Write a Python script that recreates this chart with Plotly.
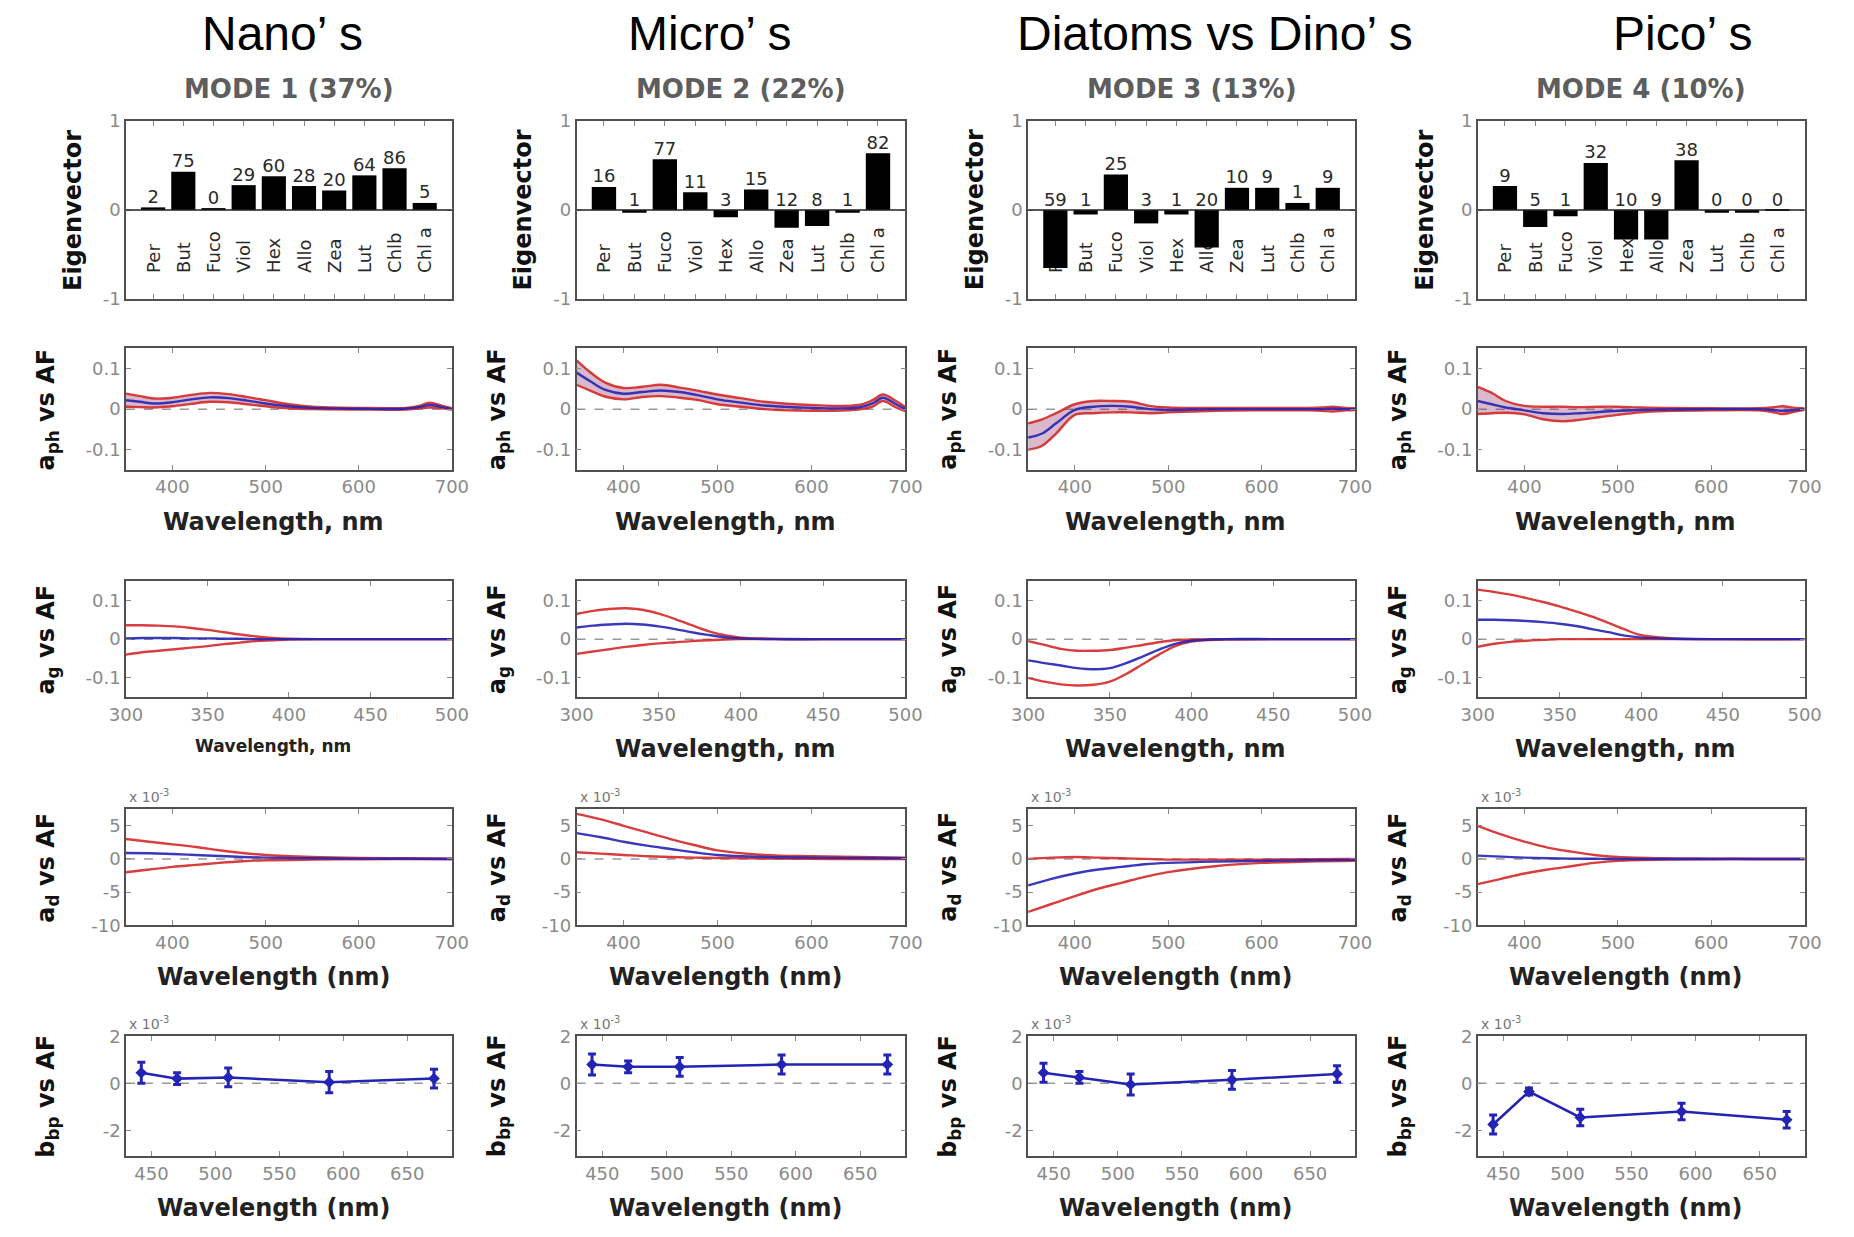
import plotly.graph_objects as go

W, H = 1854, 1237

# ---------------- data ----------------
group_titles = ["Nano’ s", "Micro’ s", "Diatoms vs Dino’ s", "Pico’ s"]
mode_titles = ["MODE 1 (37%)", "MODE 2 (22%)", "MODE 3 (13%)", "MODE 4 (10%)"]

pigments = ["Per", "But", "Fuco", "Viol", "Hex", "Allo", "Zea", "Lut", "Chlb", "Chl a"]

# eigenvector loadings per mode
eig_mode1 = [0.03, 0.43, 0.02, 0.28, 0.38, 0.27, 0.22, 0.39, 0.47, 0.08]
eig_mode2 = [0.26, -0.03, 0.57, 0.20, -0.08, 0.23, -0.20, -0.18, -0.03, 0.64]
eig_mode3 = [-0.65, -0.05, 0.40, -0.15, -0.05, -0.42, 0.25, 0.25, 0.08, 0.25]
eig_mode4 = [0.27, -0.19, -0.07, 0.53, -0.33, -0.33, 0.56, -0.03, -0.03, -0.01]
# numbers printed above the bars
num_mode1 = [2, 75, 0, 29, 60, 28, 20, 64, 86, 5]
num_mode2 = [16, 1, 77, 11, 3, 15, 12, 8, 1, 82]
num_mode3 = [59, 1, 25, 3, 1, 20, 10, 9, 1, 9]
num_mode4 = [9, 5, 1, 32, 10, 9, 38, 0, 0, 0]

# phytoplankton absorption vs AF (mean and envelope)
wl_ph = [350, 365, 380, 400, 420, 440, 460, 480, 500, 525, 550, 600, 650, 665, 676, 690, 700]
aph_hi_1 = [0.038, 0.032, 0.026, 0.028, 0.035, 0.040, 0.037, 0.030, 0.022, 0.012, 0.006, 0.003, 0.003, 0.008, 0.016, 0.008, 0.002]
aph_mn_1 = [0.022, 0.018, 0.014, 0.017, 0.024, 0.029, 0.027, 0.021, 0.014, 0.007, 0.003, 0.001, 0.001, 0.005, 0.010, 0.005, 0.000]
aph_lo_1 = [0.006, 0.005, 0.004, 0.007, 0.013, 0.018, 0.017, 0.012, 0.007, 0.002, 0.000, -0.001, -0.001, 0.002, 0.004, 0.002, -0.002]
aph_hi_2 = [0.120, 0.090, 0.066, 0.052, 0.055, 0.060, 0.053, 0.045, 0.036, 0.027, 0.018, 0.010, 0.010, 0.022, 0.036, 0.020, 0.005]
aph_mn_2 = [0.090, 0.068, 0.048, 0.038, 0.042, 0.046, 0.042, 0.034, 0.024, 0.016, 0.009, 0.003, 0.004, 0.014, 0.028, 0.012, 0.000]
aph_lo_2 = [0.060, 0.045, 0.031, 0.024, 0.030, 0.032, 0.028, 0.022, 0.012, 0.006, 0.000, -0.004, -0.001, 0.006, 0.020, 0.004, -0.005]
aph_hi_3 = [-0.035, -0.025, -0.010, 0.012, 0.020, 0.020, 0.018, 0.008, 0.004, 0.003, 0.003, 0.003, 0.003, 0.004, 0.006, 0.003, 0.002]
aph_mn_3 = [-0.070, -0.060, -0.035, -0.002, 0.006, 0.008, 0.006, 0.000, -0.002, -0.001, 0.000, 0.000, 0.000, 0.000, 0.001, 0.000, 0.000]
aph_lo_3 = [-0.100, -0.090, -0.060, -0.014, -0.010, -0.008, -0.008, -0.010, -0.008, -0.006, -0.004, -0.003, -0.003, -0.004, -0.006, -0.003, -0.002]
aph_hi_4 = [0.055, 0.040, 0.020, 0.008, 0.006, 0.006, 0.005, 0.006, 0.006, 0.004, 0.003, 0.002, 0.002, 0.004, 0.007, 0.003, 0.002]
aph_mn_4 = [0.020, 0.012, 0.004, -0.003, -0.010, -0.012, -0.010, -0.007, -0.004, -0.002, -0.001, 0.000, 0.000, -0.002, -0.004, -0.002, 0.000]
aph_lo_4 = [-0.012, -0.010, -0.009, -0.013, -0.025, -0.030, -0.026, -0.020, -0.014, -0.008, -0.005, -0.003, -0.003, -0.007, -0.012, -0.006, -0.002]

# CDOM absorption vs AF
wl_g = [300, 310, 320, 330, 340, 350, 360, 370, 380, 390, 400, 420, 450, 500]
ag_hi_1 = [0.036, 0.036, 0.035, 0.033, 0.029, 0.024, 0.018, 0.012, 0.007, 0.003, 0.001, 0.0, 0.0, 0.0]
ag_mn_1 = [0.002, 0.003, 0.003, 0.003, 0.002, 0.002, 0.001, 0.001, 0.0, 0.0, 0.0, 0.0, 0.0, 0.0]
ag_lo_1 = [-0.040, -0.034, -0.030, -0.026, -0.022, -0.018, -0.013, -0.009, -0.005, -0.003, -0.001, 0.0, 0.0, 0.0]
ag_hi_2 = [0.065, 0.073, 0.078, 0.080, 0.076, 0.066, 0.052, 0.036, 0.021, 0.010, 0.004, 0.001, 0.0, 0.0]
ag_mn_2 = [0.030, 0.035, 0.038, 0.040, 0.038, 0.033, 0.026, 0.018, 0.011, 0.005, 0.002, 0.0, 0.0, 0.0]
ag_lo_2 = [-0.038, -0.032, -0.026, -0.020, -0.015, -0.011, -0.008, -0.005, -0.003, -0.001, 0.0, 0.0, 0.0, 0.0]
ag_hi_3 = [-0.005, -0.015, -0.025, -0.030, -0.030, -0.028, -0.022, -0.015, -0.008, -0.003, -0.001, 0.0, 0.0, 0.0]
ag_mn_3 = [-0.055, -0.062, -0.068, -0.075, -0.078, -0.075, -0.062, -0.045, -0.027, -0.012, -0.004, 0.0, 0.0, 0.0]
ag_lo_3 = [-0.100, -0.110, -0.117, -0.120, -0.118, -0.110, -0.090, -0.065, -0.040, -0.018, -0.006, -0.001, 0.0, 0.0]
ag_hi_4 = [0.128, 0.122, 0.115, 0.106, 0.096, 0.085, 0.072, 0.058, 0.042, 0.025, 0.010, 0.002, 0.0, 0.0]
ag_mn_4 = [0.050, 0.050, 0.049, 0.047, 0.044, 0.040, 0.034, 0.026, 0.018, 0.009, 0.004, 0.001, 0.0, 0.0]
ag_lo_4 = [-0.020, -0.012, -0.007, -0.004, -0.002, 0.0, 0.0, 0.0, 0.0, 0.0, 0.0, 0.0, 0.0, 0.0]

# detrital absorption vs AF (x 10^-3)
wl_d = [350, 375, 400, 425, 450, 475, 500, 550, 600, 650, 700]
ad_hi_1 = [3.0, 2.6, 2.2, 1.8, 1.3, 0.9, 0.6, 0.3, 0.15, 0.1, 0.05]
ad_mn_1 = [0.9, 0.85, 0.75, 0.6, 0.45, 0.3, 0.2, 0.1, 0.05, 0.02, 0.0]
ad_lo_1 = [-2.0, -1.6, -1.2, -0.9, -0.6, -0.35, -0.2, -0.1, -0.05, -0.03, -0.02]
ad_hi_2 = [6.8, 6.0, 5.0, 4.0, 3.0, 2.1, 1.3, 0.6, 0.4, 0.3, 0.2]
ad_mn_2 = [3.9, 3.3, 2.6, 2.0, 1.5, 1.0, 0.6, 0.3, 0.2, 0.15, 0.1]
ad_lo_2 = [1.0, 0.8, 0.6, 0.4, 0.3, 0.2, 0.15, 0.05, 0.0, 0.0, 0.0]
ad_hi_3 = [0.0, 0.2, 0.3, 0.2, 0.1, 0.0, -0.1, -0.1, -0.1, -0.05, 0.0]
ad_mn_3 = [-4.0, -3.0, -2.2, -1.6, -1.2, -0.8, -0.6, -0.4, -0.3, -0.2, -0.15]
ad_lo_3 = [-8.0, -6.8, -5.6, -4.5, -3.6, -2.7, -2.0, -1.1, -0.6, -0.4, -0.3]
ad_hi_4 = [5.0, 3.7, 2.6, 1.7, 1.1, 0.6, 0.3, 0.1, 0.05, 0.0, 0.0]
ad_mn_4 = [0.5, 0.35, 0.2, 0.1, 0.05, 0.02, 0.0, 0.0, 0.0, 0.0, 0.0]
ad_lo_4 = [-3.8, -3.0, -2.2, -1.6, -1.1, -0.6, -0.3, -0.1, -0.05, 0.0, 0.0]

# particulate backscattering vs AF (x 10^-3)
wl_bb = [442, 470, 510, 589, 671]
bbp_1 = [0.45, 0.20, 0.25, 0.05, 0.20]
bbp_err_1 = [0.45, 0.25, 0.40, 0.45, 0.40]
bbp_2 = [0.80, 0.70, 0.70, 0.80, 0.80]
bbp_err_2 = [0.45, 0.25, 0.40, 0.40, 0.40]
bbp_3 = [0.45, 0.25, -0.05, 0.15, 0.40]
bbp_err_3 = [0.40, 0.25, 0.45, 0.40, 0.35]
bbp_4 = [-1.75, -0.35, -1.45, -1.20, -1.55]
bbp_err_4 = [0.40, 0.15, 0.35, 0.35, 0.35]

eig = [eig_mode1, eig_mode2, eig_mode3, eig_mode4]
nums = [num_mode1, num_mode2, num_mode3, num_mode4]
aph = [(aph_hi_1, aph_mn_1, aph_lo_1), (aph_hi_2, aph_mn_2, aph_lo_2),
       (aph_hi_3, aph_mn_3, aph_lo_3), (aph_hi_4, aph_mn_4, aph_lo_4)]
ag = [(ag_hi_1, ag_mn_1, ag_lo_1), (ag_hi_2, ag_mn_2, ag_lo_2),
      (ag_hi_3, ag_mn_3, ag_lo_3), (ag_hi_4, ag_mn_4, ag_lo_4)]
ad = [(ad_hi_1, ad_mn_1, ad_lo_1), (ad_hi_2, ad_mn_2, ad_lo_2),
      (ad_hi_3, ad_mn_3, ad_lo_3), (ad_hi_4, ad_mn_4, ad_lo_4)]
bbp = [(bbp_1, bbp_err_1), (bbp_2, bbp_err_2), (bbp_3, bbp_err_3), (bbp_4, bbp_err_4)]

# ---------------- layout geometry (pixels) ----------------
col_px = [(111, 443), (570, 905), (1030, 1363), (1488, 1821)]
row_px = [(112, 293), (343, 467), (580, 698), (812, 930), (1043, 1165)]
title_cx = [270, 706, 1220, 1697]

FONT = "DejaVu Sans"
RED = "#d42a2a"
BLUE = "#2424b4"
BAND = "rgba(130, 30, 90, 0.30)"
AXIS_COL = "#505050"
TICK_COL = "#8a8a8a"

x_ranges = [[0.1, 10.9], [350, 700], [300, 500], [350, 700], [430, 685]]
x_ticks = [list(range(1, 11)), [400, 500, 600, 700], [300, 350, 400, 450, 500],
           [400, 500, 600, 700], [450, 500, 550, 600, 650]]
y_ranges = [[-1, 1], [-0.15, 0.15], [-0.15, 0.15], [-10, 7.5], [-3.1, 2]]
y_ticks = [[-1, 0, 1], [-0.1, 0, 0.1], [-0.1, 0, 0.1], [-10, -5, 0, 5], [-2, 0, 2]]
y_titles = ["Eigenvector", "a<sub>ph</sub> vs AF", "a<sub>g</sub> vs AF",
            "a<sub>d</sub> vs AF", "b<sub>bp</sub> vs AF"]
x_titles = [None, "Wavelength, nm", "Wavelength, nm", "Wavelength (nm)", "Wavelength (nm)"]


def px_x(p):
    return p / W


def px_y(p):
    return 1 - p / H


fig = go.Figure()
layout = {}
shapes = []
annotations = []


def ax_names(r, c):
    i = r * 4 + c + 1
    s = "" if i == 1 else str(i)
    return "x" + s, "y" + s, "xaxis" + s, "yaxis" + s


for r in range(5):
    for c in range(4):
        xn, yn, xk, yk = ax_names(r, c)
        x0, x1 = col_px[c]
        y0, y1 = row_px[r]
        layout[xk] = dict(
            domain=[px_x(x0), px_x(x1)], anchor=yn, range=x_ranges[r],
            tickvals=x_ticks[r], showticklabels=(r > 0),
            ticks="inside", ticklen=5, tickwidth=1, tickcolor=TICK_COL,
            showline=True, linecolor=AXIS_COL, linewidth=1.5, mirror="ticks",
            showgrid=False, zeroline=False,
            tickfont=dict(family=FONT, size=18, color=TICK_COL),
        )
        layout[yk] = dict(
            domain=[px_y(y1), px_y(y0)], anchor=xn, range=y_ranges[r],
            tickvals=y_ticks[r], ticktext=[("%g" % v) for v in y_ticks[r]],
            ticks="inside", ticklen=5, tickwidth=1, tickcolor=TICK_COL,
            showline=True, linecolor=AXIS_COL, linewidth=1.5, mirror="ticks",
            showgrid=False, zeroline=False,
            tickfont=dict(family=FONT, size=18, color=TICK_COL),
        )

        # y-axis title
        yshift_off = -54 if r == 0 else -80
        annotations.append(dict(
            text="<b>" + y_titles[r] + "</b>", textangle=-90,
            xref="paper", yref="paper",
            x=px_x(x0 + yshift_off), y=px_y((y0 + y1) / 2),
            xanchor="center", yanchor="middle", showarrow=False,
            font=dict(family=FONT, size=24, color="#111111"),
        ))
        # x-axis title
        if x_titles[r]:
            small = (r == 2 and c == 0)
            annotations.append(dict(
                text="<b>" + x_titles[r] + "</b>",
                xref="paper", yref="paper",
                x=px_x((x0 + x1) / 2 - 16), y=px_y(y1 + (50 if small else 53)),
                xanchor="center", yanchor="middle", showarrow=False,
                font=dict(family=FONT, size=17 if small else 24, color="#222222"),
            ))
        # exponent marker
        if r >= 3:
            annotations.append(dict(
                text="x 10<sup>-3</sup>", xref="paper", yref="paper",
                x=px_x(x0 + 1), y=px_y(y0 - 2), xanchor="left", yanchor="bottom",
                showarrow=False, font=dict(family=FONT, size=14, color="#777777"),
            ))
        # reference lines
        if r == 0:
            shapes.append(dict(type="line", xref=xn + " domain", yref=yn,
                               x0=0, x1=1, y0=0, y1=0, layer="above",
                               line=dict(color="#202020", width=1.5)))
        else:
            shapes.append(dict(type="line", xref=xn + " domain", yref=yn,
                               x0=0, x1=1, y0=0, y1=0, layer="below",
                               line=dict(color="#9a9a9a", width=1.5, dash="dash")))

# ---------------- traces ----------------
pos = list(range(1, 11))
for c in range(4):
    xn, yn, _, _ = ax_names(0, c)
    # pigment names (drawn beneath the bars)
    fig.add_trace(go.Bar(
        x=pos, y=[0.68] * 10, base=-0.74, width=0.8,
        marker=dict(color="rgba(0,0,0,0)", line=dict(width=0)),
        text=pigments, textposition="inside", insidetextanchor="start",
        textangle=-90, constraintext="none",
        textfont=dict(family=FONT, size=18, color="#2a2a2a"),
        hoverinfo="skip", xaxis=xn, yaxis=yn,
    ))
    fig.add_trace(go.Bar(
        x=pos, y=eig[c], width=0.8,
        marker=dict(color="#000000", line=dict(width=0)),
        xaxis=xn, yaxis=yn,
    ))
    fig.add_trace(go.Scatter(
        x=pos, y=[max(v, 0) for v in eig[c]], mode="text",
        text=[str(n) for n in nums[c]], textposition="top center",
        textfont=dict(family=FONT, size=18, color="#2a2a2a"),
        xaxis=xn, yaxis=yn, hoverinfo="skip",
    ))

for r, (wl, sets) in zip([1, 2, 3], [(wl_ph, aph), (wl_g, ag), (wl_d, ad)]):
    for c in range(4):
        xn, yn, _, _ = ax_names(r, c)
        hi, mn, lo = sets[c]
        if r == 1:
            # dense spread of individual spectra between the envelopes
            fig.add_trace(go.Scatter(
                x=wl, y=hi, mode="lines", line=dict(width=0, shape="spline"),
                xaxis=xn, yaxis=yn, hoverinfo="skip",
            ))
            fig.add_trace(go.Scatter(
                x=wl, y=lo, mode="lines", line=dict(width=0, shape="spline"),
                fill="tonexty", fillcolor=BAND,
                xaxis=xn, yaxis=yn, hoverinfo="skip",
            ))
        for ys, col in [(hi, RED), (lo, RED), (mn, BLUE)]:
            fig.add_trace(go.Scatter(
                x=wl, y=ys, mode="lines", line=dict(color=col, width=2.4, shape="spline"),
                opacity=0.9, xaxis=xn, yaxis=yn,
            ))

for c in range(4):
    xn, yn, _, _ = ax_names(4, c)
    vals, errs = bbp[c]
    fig.add_trace(go.Scatter(
        x=wl_bb, y=vals, mode="lines+markers",
        line=dict(color=BLUE, width=2.5),
        marker=dict(color=BLUE, size=9, symbol="diamond"),
        error_y=dict(type="data", array=errs, color=BLUE, thickness=3, width=4),
        xaxis=xn, yaxis=yn,
    ))

# ---------------- headings ----------------
for c in range(4):
    annotations.append(dict(
        text=group_titles[c], xref="paper", yref="paper",
        x=px_x(title_cx[c]), y=px_y(23), xanchor="center", yanchor="middle",
        showarrow=False, font=dict(family="Liberation Sans", size=48, color="#000000"),
    ))
    x0, x1 = col_px[c]
    annotations.append(dict(
        text="<b>" + mode_titles[c] + "</b>", xref="paper", yref="paper",
        x=px_x((x0 + x1) / 2), y=px_y(79), xanchor="center", yanchor="middle",
        showarrow=False, font=dict(family=FONT, size=26, color="#5e5e5e"),
    ))

fig.update_layout(
    width=W, height=H, margin=dict(l=0, r=0, t=0, b=0),
    paper_bgcolor="white", plot_bgcolor="white",
    showlegend=False, barmode="overlay",
    shapes=shapes, annotations=annotations,
    **layout,
)

fig.write_html("out.html")
